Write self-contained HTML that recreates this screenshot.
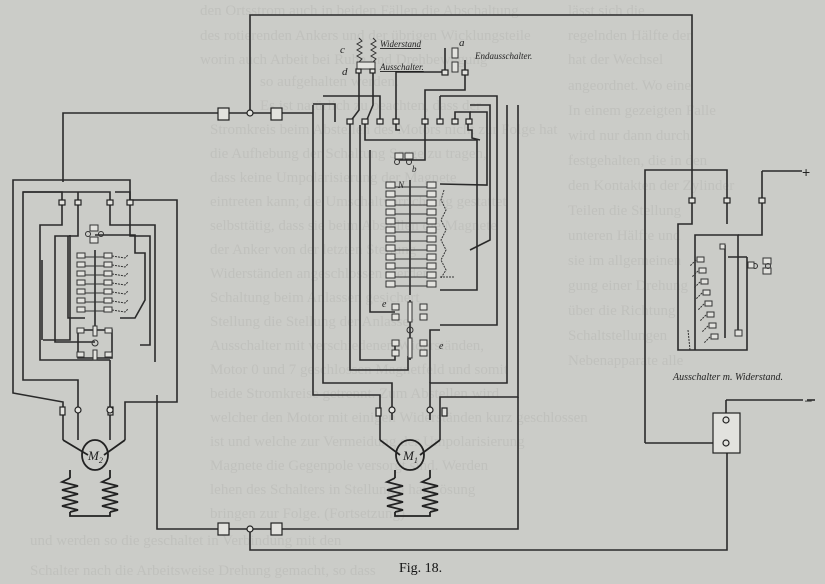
<!DOCTYPE html>
<html><head><meta charset="utf-8"><style>
html,body{margin:0;padding:0;background:#cbccc8;}
svg{display:block}
.t{font-family:"Liberation Serif",serif;fill:#c0c1bd;font-size:15px}
.w{fill:none;stroke:#2a2a2a;stroke-width:1.6}
.thin{fill:none;stroke:#333;stroke-width:1}
.box{fill:#e2e2de;stroke:#333;stroke-width:1}
.lab{font-family:"Liberation Serif",serif;font-style:italic;fill:#222}
</style></head><body>
<svg width="825" height="584" viewBox="0 0 825 584" xmlns="http://www.w3.org/2000/svg">
<rect width="825" height="584" fill="#cbccc8"/>
<g class="t">
<text x="200" y="15">den Ortsstrom auch in beiden Fällen die Abschaltung</text>
<text x="200" y="40">des rotierenden Ankers und der übrigen Wicklungsteile</text>
<text x="200" y="64">worin auch Arbeit bei Ruhe und Drehbewegung</text>
<text x="260" y="86">so aufgehalten werden.</text>
<text x="260" y="110">Es ist natürlich zu beachten, dass der</text>
<text x="210" y="134">Stromkreis beim Abstellen des Motors nicht zur Folge hat</text>
<text x="210" y="158">die Aufhebung der Schaltung Sorge zu tragen,</text>
<text x="210" y="182">dass keine Umpolarisierung der Magnete</text>
<text x="210" y="206">eintreten kann; die Umschaltvorrichtung gestattet</text>
<text x="210" y="230">selbsttätig, dass sie beim Abstellen die Magnete</text>
<text x="210" y="254">der Anker von der letzten Stellung</text>
<text x="210" y="278">Widerständen angeschlossen werden</text>
<text x="210" y="302">Schaltung beim Anlassen gesichert</text>
<text x="210" y="326">Stellung die Stellung der Anlasser</text>
<text x="210" y="350">Ausschalter mit verschiedenen Widerständen,</text>
<text x="210" y="374">Motor 0 und 7 geschlossen Magnetfeld und somit</text>
<text x="210" y="398">beide Stromkreise getrennt. Zum Abstellen wird</text>
<text x="210" y="422">welcher den Motor mit einigen Widerständen kurz geschlossen</text>
<text x="210" y="446">ist und welche zur Vermeidung der Umpolarisierung</text>
<text x="210" y="470">Magnete die Gegenpole versorgt sind. Werden</text>
<text x="210" y="494">lehen des Schalters in Stellung a hat Lösung</text>
<text x="210" y="518">bringen zur Folge. (Fortsetzung)</text>
<text x="30" y="545">und werden so die geschaltet in Verbindung mit den</text>
<text x="30" y="575">Schalter nach die Arbeitsweise Drehung gemacht, so dass</text>
<text x="568" y="15">lässt sich die</text><text x="568" y="40">regelnden Hälfte der</text>
<text x="568" y="64">hat der Wechsel</text><text x="568" y="90">angeordnet. Wo eine</text>
<text x="568" y="115">In einem gezeigten Falle</text><text x="568" y="140">wird nur dann durch</text>
<text x="568" y="165">festgehalten, die in den</text><text x="568" y="190">den Kontakten der Zylinder</text>
<text x="568" y="215">Teilen die Stellung</text><text x="568" y="240">unteren Hälfte und</text>
<text x="568" y="265">sie im allgemeinen</text><text x="568" y="290">gung einer Drehung</text>
<text x="568" y="315">über die Richtung</text><text x="568" y="340">Schaltstellungen</text>
<text x="568" y="365">Nebenapparate alle</text>
</g>
<g class="w">
<polyline points="250,113 250,15 692,15 692,170"/>
<polyline points="63,182 63,113 313,113"/>
<polyline points="157,455 157,395 157,529 518,529 518,397"/>
<polyline points="250,529 250,550 727,550 727,452"/>
<polyline points="63,440 63,402 13,393 13,180 130,180 130,200 177,200 177,402 125,402 125,440"/>
<polyline points="78,440 78,380 23,380 23,192 62,192 62,225 40,225 40,360 110,360"/>
<polyline points="110,360 110,440"/>
<polyline points="23,192 110,192 110,225 155,225 155,362"/>
<polyline points="115,192 130,192 130,236 150,236 150,345 140,345"/>
<polyline points="78,192 78,236 55,236 55,342 95,342"/>
<polyline points="42,260 42,340"/>
<polyline points="70,235 70,340 43,340"/>
<polyline points="95,235 135,235 135,253 145,253 145,300 135,318 120,318"/>
<polyline points="68,236 68,318 85,318"/>
<line x1="95" y1="250" x2="95" y2="318"/>
<polyline points="95,318 95,330"/>
<polyline points="95,330 78,330 78,358 95,358"/>
<polyline points="95,330 112,330 112,358 95,358"/>
<polyline points="313,105 313,395 380,395 380,440"/>
<polyline points="323,105 323,383 392,383 392,420"/>
<polyline points="518,105 518,397 440,397 440,440"/>
<polyline points="507,105 507,383 430,383 430,420"/>
<polyline points="323,96 380,96 380,123"/>
<polyline points="313,104 335,104 335,122"/>
<polyline points="350,122 350,370 408,370 408,356"/>
<polyline points="360,125 360,360 395,360 395,345"/>
<polyline points="370,150 370,312 395,312"/>
<polyline points="365,123 365,140 477,140 477,290 440,290"/>
<polyline points="359,62 359,96 359,110 350,122"/>
<polyline points="373,62 373,105 366,122"/>
<polyline points="445,48 445,72 396,72 396,123"/>
<polyline points="465,60 465,90 425,90 425,123"/>
<polyline points="396,123 396,130 400,130"/>
<polyline points="425,123 425,160 400,160 400,158"/>
<polyline points="440,96 497,96 497,123"/>
<polyline points="440,96 440,123"/>
<polyline points="455,122 455,112 470,112 470,122"/>
<polyline points="468,122 468,130 472,130 472,138 480,140"/>
<polyline points="470,105 490,105 490,240 470,250"/>
<polyline points="497,123 497,325 440,325"/>
<polyline points="470,112 487,112 487,185 440,184"/>
<polyline points="430,383 430,330 440,330"/>
<line x1="410" y1="180" x2="410" y2="295"/>
<line x1="410" y1="300" x2="410" y2="360"/>
<polyline points="645,443 645,170 727,170 727,224"/>
<polyline points="692,170 692,224 678,224 678,350 747,350 747,257"/>
<polyline points="762,171 802,171"/>
<polyline points="762,171 762,235 738,235"/>
<polyline points="695,350 695,235 738,235 738,330"/>
<line x1="725" y1="245" x2="725" y2="338"/>
<polyline points="726,400 803,400"/>
<line x1="807" y1="400" x2="815" y2="400"/>
<polyline points="645,443 726,443 726,400"/>
<polyline points="728,257 747,257"/>
</g>
<g class="thin">
<g id="rowm">
<rect x="386" y="182" width="9" height="6" class="box"/>
<rect x="427" y="182" width="9" height="6" class="box"/>
<line x1="395" y1="187" x2="427" y2="187"/>
</g>
<use href="#rowm" y="9"/><use href="#rowm" y="18"/><use href="#rowm" y="27"/>
<use href="#rowm" y="36"/><use href="#rowm" y="45"/><use href="#rowm" y="54"/>
<use href="#rowm" y="63"/><use href="#rowm" y="72"/><use href="#rowm" y="81"/>
<use href="#rowm" y="90"/><use href="#rowm" y="99"/>
<polyline points="444,190 441,200 446,210 441,220 446,230 441,240 446,250 441,260 446,270 441,278" stroke-dasharray="2,1"/>
<polyline points="440,277 455,277" stroke-dasharray="2,1"/>
<g id="rowl">
<rect x="77" y="253" width="8" height="5" class="box"/>
<rect x="104" y="253" width="8" height="5" class="box"/>
<line x1="85" y1="257" x2="104" y2="257"/>
<polyline points="112,256 125,258 128,255" stroke-dasharray="2,1"/>
</g>
<use href="#rowl" y="9"/><use href="#rowl" y="18"/><use href="#rowl" y="27"/>
<use href="#rowl" y="36"/><use href="#rowl" y="45"/><use href="#rowl" y="54"/>
<g id="rowr">
<rect x="697" y="257" width="7" height="5" class="box"/>
<polyline points="696,260 690,266" stroke-dasharray="2,1"/>
</g>
<use href="#rowr" x="2" y="11"/><use href="#rowr" x="4" y="22"/><use href="#rowr" x="6" y="33"/>
<use href="#rowr" x="8" y="44"/><use href="#rowr" x="10" y="55"/><use href="#rowr" x="12" y="66"/>
<use href="#rowr" x="14" y="77"/>
<rect x="735" y="330" width="7" height="6" class="box"/>
<rect x="720" y="244" width="5" height="5" class="box"/>
<polyline points="688,330 690,350" stroke-dasharray="2,1"/>
</g>
<g class="thin">
<rect x="392" y="304" width="7" height="6" class="box"/><rect x="392" y="314" width="7" height="6" class="box"/>
<rect x="420" y="304" width="7" height="6" class="box"/><rect x="420" y="314" width="7" height="6" class="box"/>
<rect x="408" y="302" width="4" height="20" class="box"/>
<circle cx="410" cy="330" r="3" fill="none"/>
<rect x="392" y="340" width="7" height="6" class="box"/><rect x="392" y="350" width="7" height="6" class="box"/>
<rect x="420" y="340" width="7" height="6" class="box"/><rect x="420" y="350" width="7" height="6" class="box"/>
<rect x="408" y="338" width="4" height="20" class="box"/>
<rect x="77" y="328" width="7" height="5" class="box"/><rect x="105" y="328" width="7" height="5" class="box"/>
<rect x="77" y="352" width="7" height="5" class="box"/><rect x="105" y="352" width="7" height="5" class="box"/>
<rect x="93" y="326" width="4" height="10" class="box"/><rect x="93" y="350" width="4" height="10" class="box"/>
<circle cx="95" cy="343" r="3" fill="none"/>
<rect x="90" y="225" width="8" height="6" class="box"/><rect x="90" y="237" width="8" height="6" class="box"/>
<circle cx="88" cy="234" r="2.5" fill="none"/><circle cx="101" cy="234" r="2.5" fill="none"/>
<rect x="395" y="153" width="8" height="6" class="box"/><rect x="405" y="153" width="8" height="6" class="box"/>
<circle cx="397" cy="162" r="2.5" fill="none"/><circle cx="409" cy="162" r="2.5" fill="none"/>
<rect x="763" y="258" width="8" height="6" class="box"/><rect x="763" y="268" width="8" height="6" class="box"/>
<circle cx="755" cy="266" r="2.5" fill="none"/><circle cx="768" cy="266" r="2.5" fill="none"/>
<rect x="748" y="262" width="6" height="6" class="box"/>
<rect x="357" y="62" width="18" height="7" class="box"/>
<polyline points="359,38 362,41 357,44 362,47 357,50 362,53 357,56 362,59 359,62" />
<polyline points="373,38 376,41 371,44 376,47 371,50 376,53 371,56 376,59 373,62"/>
<rect x="452" y="48" width="6" height="10" class="box"/><rect x="452" y="62" width="6" height="10" class="box"/>
</g>
<g fill="#e2e2de" stroke="#222" stroke-width="1.2">
<rect x="218" y="108" width="11" height="12"/><rect x="271" y="108" width="11" height="12"/>
<circle cx="250" cy="113" r="3"/>
<rect x="218" y="523" width="11" height="12"/><rect x="271" y="523" width="11" height="12"/>
<circle cx="250" cy="529" r="3"/>
<rect x="59" y="200" width="6" height="5"/><rect x="75" y="200" width="6" height="5"/>
<rect x="107" y="200" width="6" height="5"/><rect x="127" y="200" width="6" height="5"/>
<rect x="60" y="407" width="5" height="8"/><rect x="108" y="407" width="5" height="8"/>
<circle cx="78" cy="410" r="3"/><circle cx="110" cy="410" r="3"/>
<rect x="376" y="408" width="5" height="8"/><rect x="442" y="408" width="5" height="8"/>
<circle cx="392" cy="410" r="3"/><circle cx="430" cy="410" r="3"/>
<rect x="347" y="119" width="6" height="5"/><rect x="362" y="119" width="6" height="5"/>
<rect x="377" y="119" width="6" height="5"/><rect x="393" y="119" width="6" height="5"/>
<rect x="422" y="119" width="6" height="5"/><rect x="437" y="119" width="6" height="5"/>
<rect x="452" y="119" width="6" height="5"/><rect x="466" y="119" width="6" height="5"/>
<rect x="356" y="69" width="5" height="4"/><rect x="370" y="69" width="5" height="4"/>
<rect x="442" y="70" width="6" height="5"/><rect x="462" y="70" width="6" height="5"/>
<rect x="689" y="198" width="6" height="5"/><rect x="724" y="198" width="6" height="5"/><rect x="759" y="198" width="6" height="5"/>
<rect x="713" y="413" width="27" height="40"/>
<circle cx="726" cy="420" r="3"/><circle cx="726" cy="443" r="3"/>
</g>
<g fill="none" stroke="#222" stroke-width="1.8">
<polyline points="63,440 88,455"/><polyline points="125,440 104,455"/>
<ellipse cx="95" cy="455" rx="13" ry="15"/>
<polyline points="380,440 400,455"/><polyline points="440,440 420,455"/>
<ellipse cx="410" cy="455" rx="14" ry="15"/>
<polyline points="70,478 62,482 78,486 62,490 78,494 62,498 78,502 62,506 78,510 70,512"/>
<polyline points="110,478 102,482 118,486 102,490 118,494 102,498 118,502 102,506 118,510 110,512"/>
<polyline points="395,478 387,482 403,486 387,490 403,494 387,498 403,502 387,506 403,510 395,512"/>
<polyline points="430,478 422,482 438,486 422,490 438,494 422,498 438,502 422,506 438,510 430,512"/>
<polyline points="70,512 70,516 110,516 110,512"/><polyline points="395,512 395,516 430,516 430,512"/>
<line x1="70" y1="470" x2="70" y2="478"/><line x1="110" y1="470" x2="110" y2="478"/>
<line x1="395" y1="470" x2="395" y2="478"/><line x1="430" y1="470" x2="430" y2="478"/>
</g>
<g class="lab">
<text x="88" y="460" font-size="13">M<tspan font-size="8" dy="3">2</tspan></text>
<text x="403" y="460" font-size="13">M<tspan font-size="8" dy="3">1</tspan></text>
<text x="340" y="53" font-size="11">c</text>
<text x="342" y="75" font-size="11">d</text>
<text x="459" y="46" font-size="11">a</text>
<text x="380" y="47" font-size="9" text-decoration="underline">Widerstand</text>
<text x="380" y="70" font-size="9" text-decoration="underline">Ausschalter.</text>
<text x="475" y="59" font-size="9">Endausschalter.</text>
<text x="412" y="172" font-size="9">b</text>
<text x="398" y="188" font-size="9">N</text>
<text x="382" y="307" font-size="10">e</text>
<text x="439" y="349" font-size="10">e</text>
<text x="673" y="380" font-size="10">Ausschalter m. Widerstand.</text>
</g>
<text x="802" y="177" font-family="Liberation Sans,sans-serif" font-size="14" fill="#222">+</text>
<text x="805" y="404" font-family="Liberation Sans,sans-serif" font-size="12" fill="#222">–</text>
<text x="399" y="572" font-family="Liberation Serif,serif" font-size="14" fill="#111">Fig. 18.</text>
</svg>
</body></html>
